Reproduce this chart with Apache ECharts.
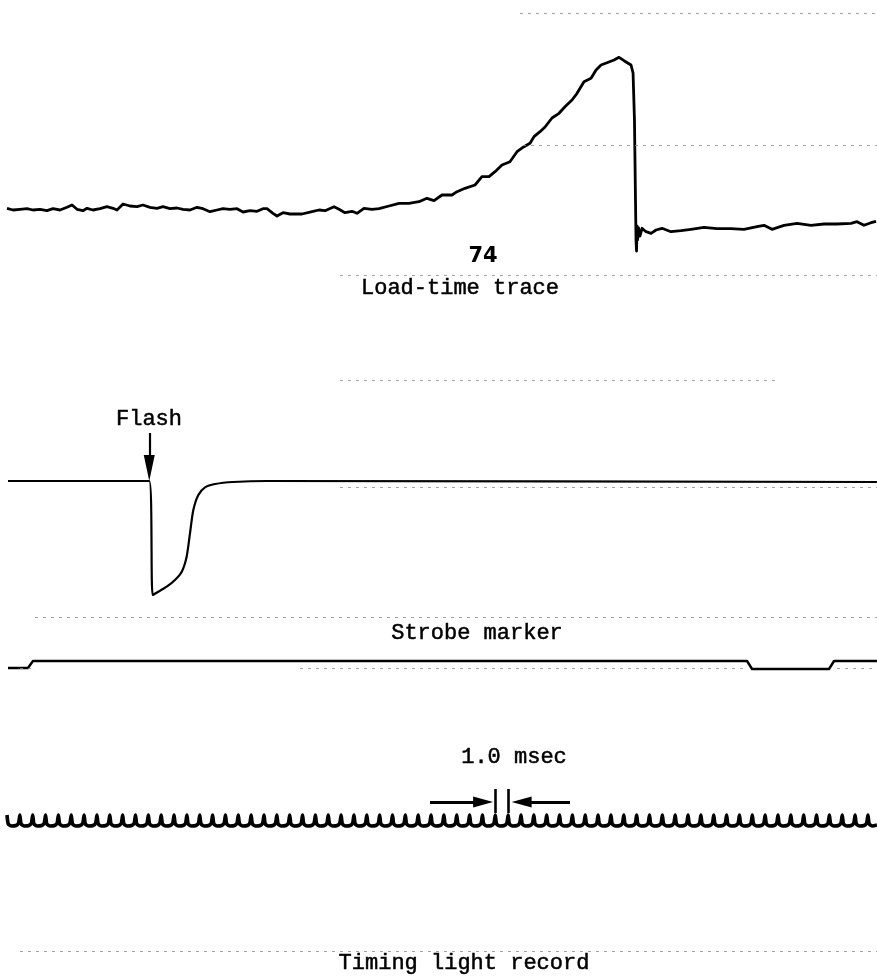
<!DOCTYPE html>
<html>
<head>
<meta charset="utf-8">
<script src="https://cdn.jsdelivr.net/npm/echarts@6/dist/echarts.min.js"></script>
<style>
html,body{margin:0;padding:0;background:#fff;}
#chart{width:877px;height:980px;}
</style>
</head>
<body>
<div id="chart"></div>
<script>
// ---- time axis (msec) ----
const timeMin = -0.545;
const timeMax = 67.704;

// ---- Load-time trace (arbitrary load units) ----
const loadTime = [0.00,0.47,1.01,1.56,2.02,2.57,3.11,3.58,4.12,4.67,5.06,5.45,5.91,6.23,6.69,7.24,7.78,8.25,8.56,9.03,9.57,10.12,10.58,11.13,11.67,12.14,12.68,13.23,13.70,14.24,14.79,15.25,15.80,16.34,16.81,17.35,17.90,18.37,18.91,19.46,19.92,20.23,20.70,21.01,21.48,22.02,22.96,23.74,24.28,24.75,25.45,25.84,26.30,26.85,27.24,27.78,28.40,28.95,29.73,30.51,31.28,32.06,32.68,33.23,33.85,34.63,35.02,35.64,36.42,36.96,37.51,37.98,38.52,39.14,39.69,40.23,40.70,41.01,41.48,41.87,42.41,42.96,43.42,43.97,44.36,44.90,45.45,45.84,46.23,46.69,47.24,47.63,48.02,48.56,48.72,48.83,48.91,48.95,48.99,49.03,49.07,49.15,49.26,49.42,49.73,50.12,50.51,50.97,51.67,52.45,53.23,54.24,55.25,56.34,57.35,58.37,58.91,59.53,60.47,61.48,62.57,63.58,64.59,65.68,66.15,66.69,67.24,67.63];
const loadValue = [91.7,90,90.7,91.3,90,90.7,89.3,91.3,90,92.7,95,90.7,89.3,91.7,90,91.3,93.3,91.7,90,96,94,93.3,95,92.7,91.7,93.3,91.3,92,90.7,90,92.7,91.3,88.3,90,91.3,90.7,91.3,88,89.3,88.7,91.3,91.3,86.7,84,87.3,86,86,88.3,90,89.3,93.3,90.7,87.3,88.7,86.7,91.7,90.7,91.3,94,96.7,96.7,98.3,101.7,99.3,105,105,108.3,111.7,115,123.3,123.3,128.3,135,138.3,148.3,153.3,156.7,163.3,168.3,173,182,186.7,193.3,200,206.7,218.3,221.7,230,235,237.3,240,242.7,239.3,235,227,180,100,60,49,74,60,72,64,71.7,68.3,66.7,70,71.7,68.3,69.3,70.7,72.7,71.3,71.3,70.7,73.3,74.7,70.7,74.7,76.7,74.7,76,76,76.7,78.3,74.7,77.3,78.7];

// ---- Flash photocell trace ----
const flashTime  = [0.08,11.07,11.34,11.77,12.43,13.07,13.60,13.98,14.24,14.50,14.89,15.41,16.19,17.61,20.21,67.70];
const flashValue = [139,139,25,28.3,33.3,40,48.3,63.3,86.7,110,125,132.7,136,138,139,138];

// ---- Strobe marker trace ----
const strobeTime  = [0.08,1.63,2.02,57.59,57.98,63.97,64.36,67.70];
const strobeValue = [32,32,39,39,31,31,39,39];

// ---- Timing light record: one pulse every 1.0 msec ----
const timingTicks = [0,1,2,3,4,5,6,7,8,9,10,11,12,13,14,15,16,17,18,19,20,21,22,23,24,25,26,27,28,29,30,31,32,33,34,35,36,37,38,39,40,41,42,43,44,45,46,47,48,49,50,51,52,53,54,55,56,57,58,59,60,61,62,63,64,65,66,67];
const timingPeak = 145;
const timingBase = 134;
const timingEnd = 67.70;

// ---- faint record lines [tStart, tEnd, level] ----
const guidesLoad   = [[39.92,67.70,287],[40.16,67.70,155],[25.91,67.70,25]];
const guidesFlash  = [[25.91,60.16,240],[25.91,67.70,133],[2.18,67.70,3]];
const guidesStrobe = [[1.01,2.18,32],[22.8,57.4,32],[64.6,67.70,32]];
const guidesTiming = [[1.01,67.70,9]];

// ---- annotations ----
const flashArrow = {t: 11.07, from: 187, to: 152};
const msecMarks = [38, 39];
const msecArrowLeft  = [32.92, 37.05];
const msecArrowRight = [43.81, 40.05];
const msecArrowLevel = 158;

const zip = (a, b) => a.map((v, i) => [v, b[i]]);

const timingData = [];
timingTicks.forEach((t, i) => {
  timingData.push([t, timingPeak]);
  const next = i < timingTicks.length - 1 ? timingTicks[i + 1] : null;
  timingData.push([t + 0.1, timingBase + 2]);
  timingData.push([t + 0.35, timingBase]);
  if (next !== null) {
    timingData.push([t + 0.7, timingBase + 0.5]);
    timingData.push([t + 0.9, timingBase + 3]);
  } else {
    timingData.push([timingEnd, timingBase + 1]);
  }
});

const guideMark = (list) => ({
  silent: true,
  symbol: ['none', 'none'],
  label: {show: false},
  lineStyle: {color: '#8a8a8a', width: 1, type: [3, 5], opacity: 0.8},
  data: list.map(g => [{coord: [g[0], g[2]]}, {coord: [g[1], g[2]]}])
});

const grids = [
  {left: 0, width: 877, top: 0, height: 300},
  {left: 0, width: 877, top: 370, height: 250},
  {left: 0, width: 877, top: 640, height: 60},
  {left: 0, width: 877, top: 700, height: 260}
];
const yRanges = [[0, 300], [0, 250], [0, 60], [0, 260]];

const chart = echarts.init(document.getElementById('chart'), null, {renderer: 'canvas'});

const textFont = '22px "Liberation Mono", "DejaVu Sans Mono", monospace';
const textStyle = (txt, x, y) => ({
  type: 'text', x: x, y: y,
  style: {text: txt, font: textFont, fill: '#000', stroke: '#000', lineWidth: 0.5,
          textAlign: 'center', textVerticalAlign: 'middle'}
});

chart.setOption({
  animation: false,
  backgroundColor: '#ffffff',
  grid: grids.map(g => Object.assign({show: false}, g)),
  xAxis: grids.map((g, i) => ({type: 'value', gridIndex: i, min: timeMin, max: timeMax, show: false})),
  yAxis: grids.map((g, i) => ({type: 'value', gridIndex: i, min: yRanges[i][0], max: yRanges[i][1], show: false})),
  series: [
    {
      name: 'Load', type: 'line', xAxisIndex: 0, yAxisIndex: 0,
      data: zip(loadTime, loadValue), symbol: 'none',
      lineStyle: {color: '#000', width: 2.8, join: 'round'},
      markLine: guideMark(guidesLoad)
    },
    {
      name: 'Flash', type: 'line', xAxisIndex: 1, yAxisIndex: 1,
      data: zip(flashTime, flashValue), symbol: 'none', smooth: 0.25,
      lineStyle: {color: '#000', width: 2.2, join: 'round'},
      markLine: guideMark(guidesFlash)
    },
    {
      name: 'FlashArrow', type: 'line', xAxisIndex: 1, yAxisIndex: 1, data: [],
      markLine: {
        silent: true, symbol: ['none', 'triangle'], symbolSize: [11, 26],
        label: {show: false},
        lineStyle: {color: '#000', width: 2.2, type: 'solid'},
        itemStyle: {color: '#000'},
        data: [[{coord: [flashArrow.t, flashArrow.from]}, {coord: [flashArrow.t, flashArrow.to]}]]
      }
    },
    {
      name: 'Strobe', type: 'line', xAxisIndex: 2, yAxisIndex: 2,
      data: zip(strobeTime, strobeValue), symbol: 'none',
      lineStyle: {color: '#000', width: 2.4, join: 'round'},
      markLine: guideMark(guidesStrobe)
    },
    {
      name: 'Timing', type: 'line', xAxisIndex: 3, yAxisIndex: 3,
      data: timingData, symbol: 'none', smooth: 0.2,
      lineStyle: {color: '#000', width: 3.6, join: 'round'},
      markLine: guideMark(guidesTiming)
    },
    {
      name: 'MsecMarker', type: 'line', xAxisIndex: 3, yAxisIndex: 3, data: [],
      markLine: {
        silent: true, symbol: ['none', 'triangle'], symbolSize: [11, 20],
        label: {show: false},
        lineStyle: {color: '#000', width: 3.2, type: 'solid'},
        itemStyle: {color: '#000'},
        data: [
          [{coord: [msecArrowLeft[0], msecArrowLevel]}, {coord: [msecArrowLeft[1], msecArrowLevel]}],
          [{coord: [msecArrowRight[0], msecArrowLevel]}, {coord: [msecArrowRight[1], msecArrowLevel]}]
        ]
      }
    },
    {
      name: 'MsecBars', type: 'line', xAxisIndex: 3, yAxisIndex: 3, data: [],
      markLine: {
        silent: true, symbol: ['none', 'none'],
        label: {show: false},
        lineStyle: {color: '#000', width: 2.6, type: 'solid'},
        data: msecMarks.map(t => [{coord: [t, 147]}, {coord: [t, 171]}])
      }
    }
  ],
  graphic: [
    {type: 'text', x: 483, y: 257, style: {text: '74', font: 'bold 21px "DejaVu Sans", sans-serif', fill: '#000', textAlign: 'center', textVerticalAlign: 'middle'}},
    textStyle('Load-time trace', 460, 288),
    textStyle('Flash', 149, 419),
    textStyle('Strobe marker', 477, 633),
    textStyle('1.0 msec', 514, 757),
    textStyle('Timing light record', 464, 963)
  ]
});
</script>
</body>
</html>
